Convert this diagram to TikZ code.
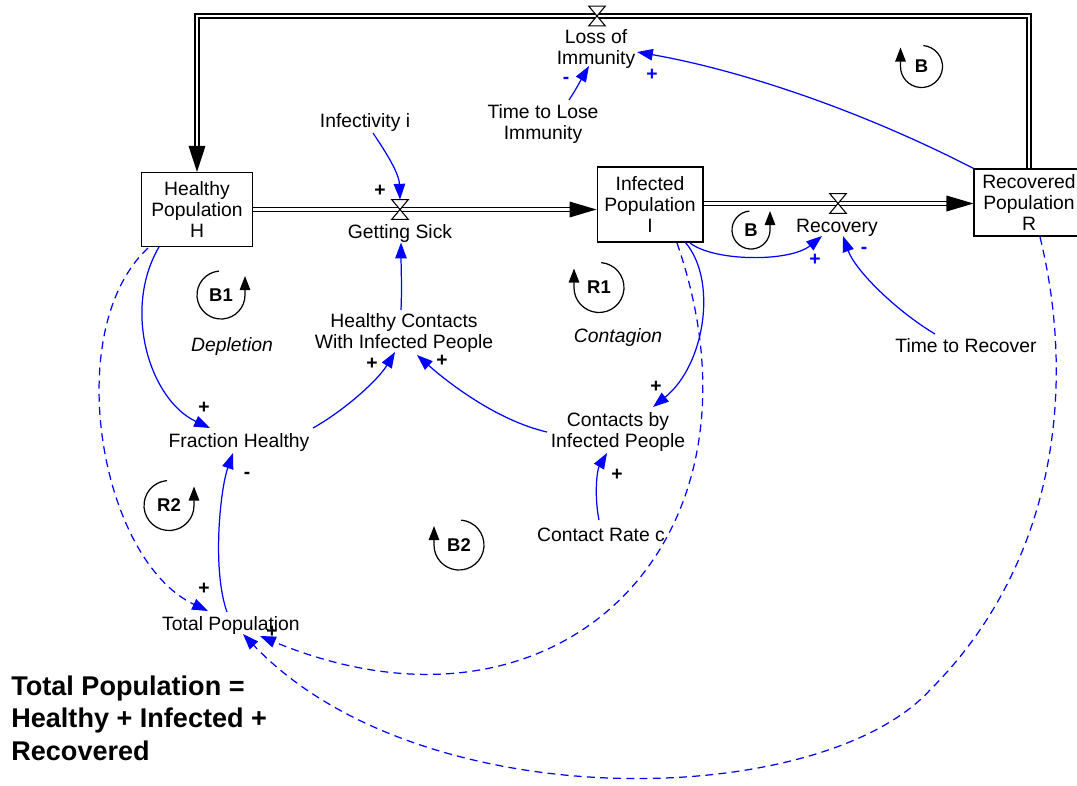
\documentclass[tikz,border=0pt]{standalone}
\usepackage{fontspec}
\setmainfont{Liberation Sans}
\usetikzlibrary{arrows.meta,calc}

\tikzset{
  every node/.style={font=\fontsize{11}{12}\selectfont},
  stock/.style={draw, line width=0.8pt, align=center, inner sep=0pt},
  var/.style={align=center, inner sep=1pt},
  valve/.style={minimum width=9pt, minimum height=10.8pt, inner sep=0pt},
  link/.style={draw=blue, line width=0.7pt, -{Triangle[length=9pt,width=6.5pt]}},
  dlink/.style={link, dash pattern=on 4.5pt off 3pt},
  pipe/.style={draw=black, line width=0.7pt, double=white, double distance=1.6pt},
  pol/.style={font=\fontsize{11}{12}\selectfont\bfseries, inner sep=0pt},
  polb/.style={pol, text=blue},
  loopline/.style={draw=black, line width=0.7pt, -{Triangle[length=8pt,width=6pt]}},
  looptext/.style={font=\fontsize{10.5}{12}\selectfont\bfseries, inner sep=0pt},
  loopname/.style={font=\fontsize{11}{12}\selectfont\itshape, inner sep=1pt}
}

% loop marker, arrow on the right side pointing up
\newcommand{\fbloopR}[5]{%
  \draw[loopline] ($(#2,#3)+(95:#4)$) arc[start angle=95, end angle=360, radius=#4] -- ++(0,19);
  \node[looptext] (#1) at (#2,#3) {#5};
}
% loop marker, arrow on the left side pointing up
\newcommand{\fbloopL}[5]{%
  \draw[loopline] ($(#2,#3)+(85:#4)$) arc[start angle=85, end angle=-180, radius=#4] -- ++(0,19);
  \node[looptext] (#1) at (#2,#3) {#5};
}

\begin{document}
\begin{tikzpicture}[x=0.02cm, y=0.02cm]
\useasboundingbox (0,0) rectangle (1077,-785);
\fill[white] (0,0) rectangle (1077,-785);

% stocks
\node[stock, minimum width=63.5pt, minimum height=42pt] (H) at (197,-209.5) {Healthy\\Population\\H};
\node[stock, minimum width=60.1pt, minimum height=42.5pt] (I) at (650,-204.5) {Infected\\Population\\I};
\node[stock, minimum width=62.4pt, minimum height=38pt] (R) at (1029,-202.5) {Recovered\\Population\\R};

% valves on the flows
\node[valve] (vgs) at (400,-209.5) {};
\node[valve] (vrec) at (838,-203.5) {};
\node[valve] (vloss) at (597,-16) {};

% flow pipes
\draw[pipe] (H.east) -- ($(I.west |- vgs)+(-20,0)$);
\draw[pipe] (I.east |- vrec) -- ($(R.west |- vrec)+(-20,0)$);
\draw[pipe] (R.north) -- (R.north |- vloss) -- (H.north |- vloss) -- ($(H.north)+(0,20)$);
\fill (I.west |- vgs) -- ++(-27,8) -- ++(0,-16) -- cycle;
\fill (R.west |- vrec) -- ++(-27,8) -- ++(0,-16) -- cycle;
\fill (H.north) -- ++(-8.5,26) -- ++(17,0) -- cycle;
\foreach \v in {vgs,vrec,vloss}
  \draw[line width=0.6pt, fill=white] (\v.north west) -- (\v.north east) -- (\v.south west) -- (\v.south east) -- cycle;

% auxiliaries and rates
\node[var] (gs) at (400,-233.5) {Getting Sick};
\node[var] (rec) at (837,-228) {Recovery};
\node[var] (loss) at (596,-49) {Loss of\\Immunity};
\node[var] (infect) at (365,-122) {Infectivity i};
\node[var] (tlose) at (543,-124) {Time to Lose\\Immunity};
\node[var] (hc) at (404,-333) {Healthy Contacts\\With Infected People};
\node[var] (fh) at (239,-442) {Fraction Healthy};
\node[var] (cbi) at (618,-432) {Contacts by\\Infected People};
\node[var] (crc) at (601,-535) {Contact Rate c};
\node[var] (tp) at (231,-625) {Total Population};
\node[var] (trec) at (966,-346) {Time to Recover};
\node[loopname] (dep) at (232,-346) {Depletion};
\node[loopname] (cont) at (618,-337) {Contagion};
\node[anchor=west, align=left, inner sep=0pt, font=\fontsize{15.4}{18.4}\selectfont\bfseries] (eqn) at (11,-718) {Total Population =\\Healthy + Infected +\\Recovered};

% causal links
\draw[link] ($(infect)+(8,-11)$) .. controls (383,-148) and (399,-172) .. (vgs.north);
\draw[link] ($(hc)+(-3,23)$) .. controls (402,-288) and (401,-262) .. ($(gs)+(1,-9)$);
\draw[link] ($(tlose)+(26,24)$) .. controls (577,-88) and (583,-76) .. ($(loss)+(-7,-17)$);
\draw[link] (R.north west) .. controls (860,-110) and (740,-70) .. ($(loss)+(41,-3)$);
\draw[link] ($(I)+(40,-38.5)$) .. controls (715,-262) and (790,-262) .. ($(rec)+(-15,-8)$);
\draw[link] ($(trec)+(-31,12)$) .. controls (895,-310) and (855,-270) .. ($(rec)+(6,-8)$);
\draw[link] ($(H)+(-38,-37.5)$) .. controls (122,-310) and (150,-400) .. ($(fh)+(-29,14)$);
\draw[link] ($(fh)+(74,14)$) .. controls (345,-410) and (378,-380) .. ($(hc)+(-9,-19)$);
\draw[link] ($(cbi)+(-71,0)$) .. controls (495,-420) and (445,-380) .. ($(hc)+(13,-22)$);
\draw[link] ($(I)+(35,-37.5)$) .. controls (718,-280) and (705,-365) .. ($(cbi)+(35,25)$);
\draw[link] ($(crc)+(-2,15)$) .. controls (594,-495) and (597,-470) .. ($(cbi)+(-11,-21)$);
\draw[link] ($(tp)+(-4,13)$) .. controls (212,-570) and (220,-490) .. ($(fh)+(-6,-11)$);
\draw[dlink] ($(H)+(-49,-38.5)$) .. controls (60,-330) and (100,-560) .. ($(tp)+(-23,14)$);
\draw[dlink] ($(I)+(27,-38.5)$) .. controls (780,-540) and (560,-760) .. ($(tp)+(29,-11)$);
\draw[dlink] ($(R)+(11,-34.5)$) .. controls (1075,-380) and (1060,-560) .. (930,-690)
  .. controls (820,-810) and (420,-820) .. ($(tp)+(12,-9)$);

% link polarities
\node[pol] (p1) at (380,-191) {+};
\node[polb] (p2) at (566,-80) {-};
\node[polb] (p3) at (652,-75) {+};
\node[polb] (p4) at (815,-260) {+};
\node[polb] (p5) at (864,-250) {-};
\node[pol] (p6) at (204,-408) {+};
\node[pol] (p7) at (372,-364) {+};
\node[pol] (p8) at (442,-361) {+};
\node[pol] (p9) at (656,-387) {+};
\node[pol] (p10) at (617,-475) {+};
\node[pol] (p11) at (247,-475) {-};
\node[pol] (p12) at (204,-589) {+};
\node[pol] (p13) at (272,-632) {+};

% feedback loop markers
\fbloopR{lpB1}{221}{-295}{24}{B1}
\fbloopL{lpR1}{599}{-287.5}{25}{R1}
\fbloopR{lpR2}{169}{-505.5}{25}{R2}
\fbloopL{lpB2}{459}{-545}{25}{B2}
\fbloopR{lpB}{751}{-230}{19}{B}
\fbloopL{lpBt}{921.5}{-66.5}{21}{B}
\end{tikzpicture}
\end{document}
